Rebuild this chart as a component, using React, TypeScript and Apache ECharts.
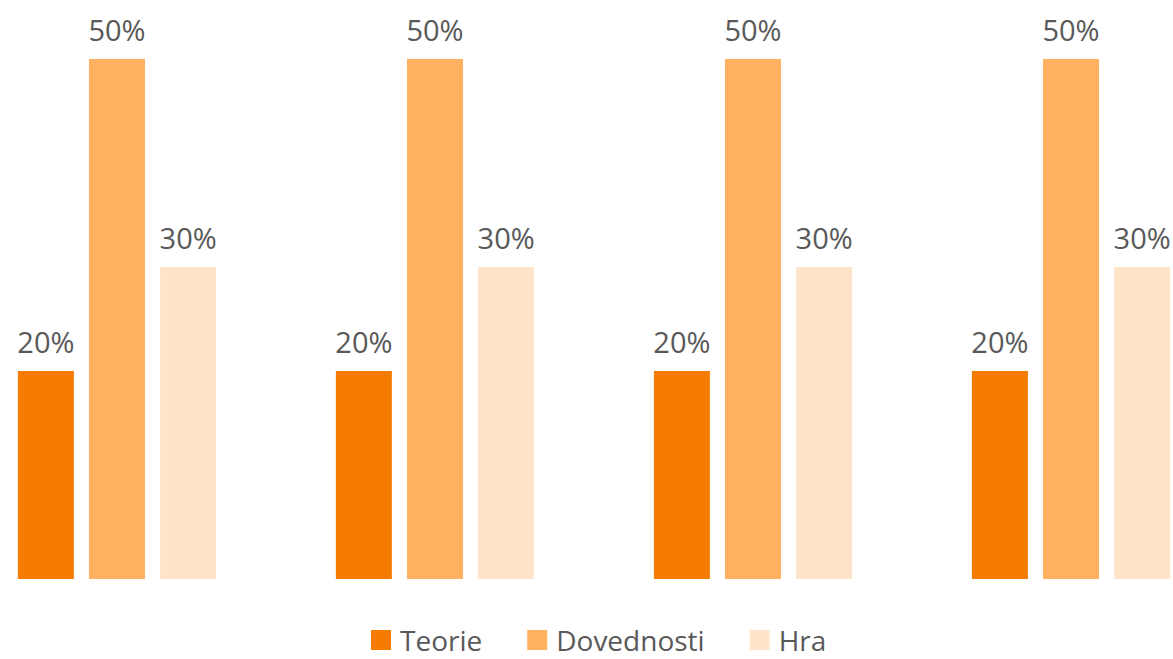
import React, { useEffect, useRef } from "react";
import * as echarts from "echarts";

const categories = ["1", "2", "3", "4"];
const seriesNames = ["Teorie", "Dovednosti", "Hra"];
const teorie = [0.2, 0.2, 0.2, 0.2];
const dovednosti = [0.5, 0.5, 0.5, 0.5];
const hra = [0.3, 0.3, 0.3, 0.3];
const colors = ["#F57C00", "#FFB061", "#FFE4C9"];

const OFFSET = 42;

export default function App() {
  const ref = useRef<HTMLDivElement>(null);
  useEffect(() => {
    document.body.style.margin = "0";
    const chart = echarts.init(ref.current!, null, { renderer: "svg" });
    const font = "'Open Sans', 'Noto Sans', sans-serif";
    const label = {
      show: true,
      position: "top",
      distance: 15,
      color: "#595959",
      fontSize: 29,
      fontFamily: font,
      formatter: (p: any) => Math.round(p.value * 100) + "%",
    };
    const data = [teorie, dovednosti, hra];
    chart.setOption({
      animation: false,
      grid: { left: 0, right: 0, top: 59, bottom: 80 },
      legend: {
        data: seriesNames,
        top: 626,
        left: 371 + OFFSET,
        padding: 0,
        itemWidth: 20,
        itemHeight: 20,
        itemGap: 45,
        icon: "rect",
        textStyle: {
          color: "#595959",
          fontSize: 28,
          lineHeight: 26,
          fontFamily: font,
          padding: [0, 0, 0, 4],
        },
      },
      xAxis: {
        type: "category",
        data: categories,
        axisLine: { show: false },
        axisTick: { show: false },
        axisLabel: { show: false },
      },
      yAxis: {
        type: "value",
        min: 0,
        max: 0.5,
        show: false,
        splitLine: { show: false },
      },
      series: seriesNames.map((name, i) => ({
        name,
        type: "bar",
        data: data[i],
        barWidth: 56,
        barGap: "27%",
        itemStyle: { color: colors[i] },
        label,
      })),
    });
    return () => chart.dispose();
  }, []);
  return (
    <div style={{ position: "relative", width: 1173, height: 659, overflow: "hidden" }}>
      <div ref={ref} style={{ position: "absolute", left: -OFFSET, top: 0, width: 1272, height: 659 }} />
    </div>
  );
}
